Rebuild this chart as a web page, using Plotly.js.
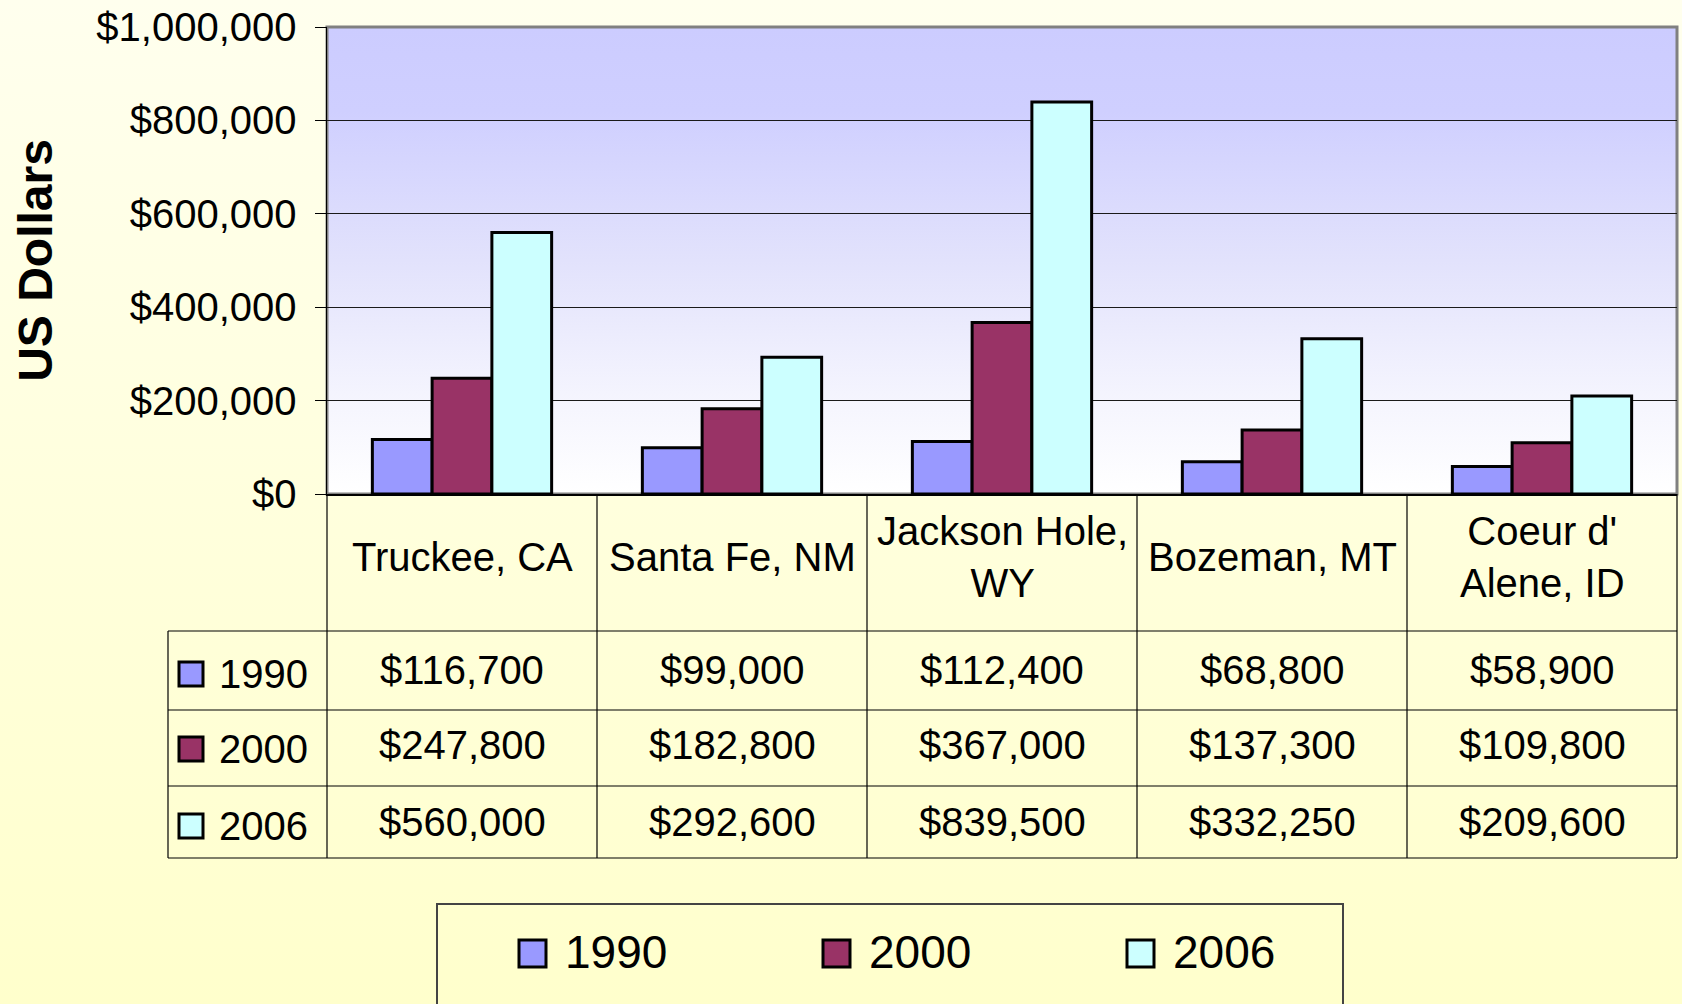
<!DOCTYPE html>
<html>
<head>
<meta charset="utf-8">
<script src="https://cdn.plot.ly/plotly-3.0.1.min.js"></script>
<style>
  html, body { margin: 0; padding: 0; }
  #chart { width: 1682px; height: 1004px; background: linear-gradient(to bottom, #FFFFEE 0%, #FFFFCC 100%); }
</style>
</head>
<body>
<div id="chart"></div>
<script>
// ---- data ----
const categories = ['Truckee, CA', 'Santa Fe, NM', 'Jackson Hole, WY', 'Bozeman, MT', "Coeur d' Alene, ID"];
const headerLabels = ['Truckee, CA', 'Santa Fe, NM', 'Jackson Hole,<br>WY', 'Bozeman, MT', "Coeur d'<br>Alene, ID"];
const years = ['1990', '2000', '2006'];
const values1990 = [116700, 99000, 112400, 68800, 58900];
const values2000 = [247800, 182800, 367000, 137300, 109800];
const values2006 = [560000, 292600, 839500, 332250, 209600];
const seriesColors = ['#9999FF', '#993366', '#CCFFFF'];
const yTickVals = [0, 200000, 400000, 600000, 800000, 1000000];

const series = [values1990, values2000, values2006];

// ---- layout geometry helpers (pixels -> paper) ----
const W = 1682, H = 1004;
const M = {l: 327, r: 5, t: 27, b: 510};
const PW = W - M.l - M.r, PH = H - M.t - M.b;
const px2x = px => (px - M.l) / PW;
const py2y = py => (H - M.b - py) / PH;

const FONT = 'Liberation Sans, Arial, sans-serif';
const fmt = v => '$' + v.toLocaleString('en-US');

const traces = years.map((yr, i) => ({
  type: 'bar',
  name: yr,
  x: categories,
  y: series[i],
  marker: {color: seriesColors[i], line: {color: '#000000', width: 3}},
  hoverinfo: 'skip',
  showlegend: false
}));

const annotations = [];
const shapes = [];

// Header row (category names)
headerLabels.forEach((lab, c) => {
  annotations.push({
    xref: 'x', yref: 'paper', x: c, y: py2y(557),
    text: lab, showarrow: false, xanchor: 'center', yanchor: 'middle',
    font: {family: FONT, size: 40, color: '#000'}
  });
});

// Value rows
const rowCenters = [670, 745, 822];
series.forEach((vals, r) => {
  vals.forEach((v, c) => {
    annotations.push({
      xref: 'x', yref: 'paper', x: c, y: py2y(rowCenters[r]),
      text: fmt(v), showarrow: false, xanchor: 'center', yanchor: 'middle',
      font: {family: FONT, size: 40, color: '#000'}
    });
  });
  // key label in table
  const cy = rowCenters[r] + 4;
  annotations.push({
    xref: 'paper', yref: 'paper', x: px2x(217), y: py2y(cy),
    text: years[r], showarrow: false, xanchor: 'left', yanchor: 'middle',
    font: {family: FONT, size: 40, color: '#000'}
  });
  // key square in table
  shapes.push({
    type: 'rect', xref: 'paper', yref: 'paper',
    x0: px2x(179), x1: px2x(203), y0: py2y(cy - 12), y1: py2y(cy + 12),
    fillcolor: seriesColors[r], line: {color: '#000', width: 3}
  });
});

// Table lines
const tableTop = 494, headerBottom = 631, rowLines = [710, 786], tableBottom = 858, tableLeft = 168;
for (let k = 0; k <= categories.length; k++) {
  shapes.push({type: 'line', xref: 'paper', yref: 'paper',
    x0: k / categories.length, x1: k / categories.length, y0: py2y(tableTop), y1: py2y(tableBottom),
    line: {color: '#000', width: 1.2}});
}
shapes.push({type: 'line', xref: 'paper', yref: 'paper',
  x0: px2x(tableLeft), x1: px2x(tableLeft), y0: py2y(headerBottom), y1: py2y(tableBottom),
  line: {color: '#000', width: 1.2}});
[headerBottom, ...rowLines, tableBottom].forEach(py => {
  shapes.push({type: 'line', xref: 'paper', yref: 'paper',
    x0: px2x(tableLeft), x1: 1, y0: py2y(py), y1: py2y(py),
    line: {color: '#000', width: 1.2}});
});

// Plot-area border (gray)
shapes.push({type: 'rect', xref: 'paper', yref: 'paper', x0: 0, x1: 1, y0: 0, y1: 1,
  line: {color: '#808080', width: 3}, layer: 'below'});

// Legend box and entries (drawn manually)
shapes.push({type: 'rect', xref: 'paper', yref: 'paper',
  x0: px2x(437), x1: px2x(1343), y0: py2y(904), y1: py2y(1010),
  line: {color: '#444', width: 2}, fillcolor: 'rgba(0,0,0,0)'});
years.forEach((yr, i) => {
  const sx = 519 + i * 304;
  shapes.push({type: 'rect', xref: 'paper', yref: 'paper',
    x0: px2x(sx), x1: px2x(sx + 27), y0: py2y(940), y1: py2y(967),
    fillcolor: seriesColors[i], line: {color: '#000', width: 3}});
  annotations.push({xref: 'paper', yref: 'paper', x: px2x(sx + 44), y: py2y(952),
    text: yr, showarrow: false, xanchor: 'left', yanchor: 'middle',
    font: {family: FONT, size: 46, color: '#000'}});
});

const gradSvg = "<svg xmlns='http://www.w3.org/2000/svg' width='100' height='100' preserveAspectRatio='none'>" +
  "<defs><linearGradient id='g' x1='0' y1='0' x2='0' y2='1'>" +
  "<stop offset='0' stop-color='#CCCCFF'/><stop offset='0.18' stop-color='#CFCFFF'/>" +
  "<stop offset='0.5' stop-color='#E2E2FC'/><stop offset='0.8' stop-color='#F5F5FE'/>" +
  "<stop offset='1' stop-color='#FFFFFF'/></linearGradient></defs>" +
  "<rect width='100' height='100' fill='url(#g)'/></svg>";

const layout = {
  width: W, height: H,
  margin: M,
  paper_bgcolor: 'rgba(0,0,0,0)',
  plot_bgcolor: 'rgba(0,0,0,0)',
  barmode: 'group',
  bargap: 0.336,
  bargroupgap: 0,
  showlegend: false,
  font: {family: FONT, color: '#000'},
  xaxis: {
    type: 'category', range: [-0.5, categories.length - 0.5],
    showticklabels: false, ticks: '', showgrid: false,
    showline: true, linecolor: '#000', linewidth: 2, fixedrange: true
  },
  yaxis: {
    range: [0, 1000000], tickvals: yTickVals, ticktext: yTickVals.map(fmt),
    ticks: 'outside', ticklen: 11, tickcolor: '#000', tickwidth: 1,
    ticklabelstandoff: 10,
    tickfont: {family: FONT, size: 40, color: '#000'},
    showgrid: true, gridcolor: '#1a1a1a', gridwidth: 1,
    showline: true, linecolor: '#000', linewidth: 1.5,
    zeroline: false, fixedrange: true,
    title: {text: 'US Dollars', font: {family: FONT, size: 48, color: '#000', weight: 'bold'}, standoff: 28}
  },
  images: [{
    source: 'data:image/svg+xml;utf8,' + encodeURIComponent(gradSvg),
    xref: 'paper', yref: 'paper', x: 0, y: 1, sizex: 1, sizey: 1,
    sizing: 'stretch', xanchor: 'left', yanchor: 'top', layer: 'below'
  }],
  shapes: shapes,
  annotations: annotations
};

Plotly.newPlot('chart', traces, layout, {displayModeBar: false, staticPlot: true});
</script>
</body>
</html>
